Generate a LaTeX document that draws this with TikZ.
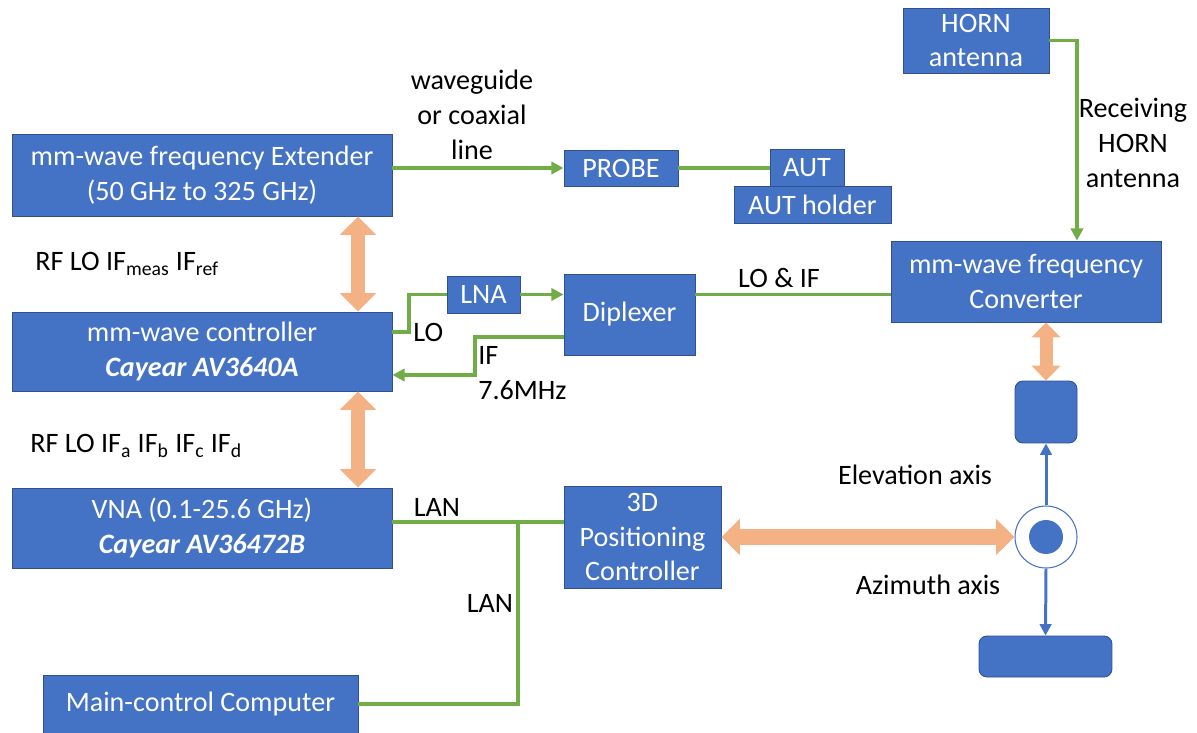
\documentclass[tikz,border=0pt]{standalone}
\usepackage{fontspec}
\setmainfont{Carlito}
\usetikzlibrary{arrows.meta,positioning,calc}

\definecolor{boxblue}{HTML}{4472C4}
\definecolor{boxedge}{HTML}{2F528F}
\definecolor{wiregreen}{HTML}{70AD47}
\definecolor{busorange}{HTML}{F4B183}

\tikzset{
  block/.style={draw=boxedge, line width=0.5pt, fill=boxblue, text=white,
                align=center, inner sep=0pt},
  mount/.style={block, rounded corners=0.16cm},
  note/.style={align=center, text=black, inner sep=0pt},
  wire/.style={draw=wiregreen, line width=2.2pt},
  sig/.style={wire, -{Triangle[width=7pt,length=7pt]}},
  bus/.style={draw=busorange, line width=8pt,
              {Triangle[width=20pt,length=10.5pt]}-{Triangle[width=20pt,length=10.5pt]}},
  axis/.style={draw=boxblue, line width=1.7pt, -{Triangle[width=6.5pt,length=6.5pt]}}
}

\begin{document}
\begin{tikzpicture}[x=0.02cm, y=-0.02cm, auto, font=\fontsize{16pt}{19.8pt}\selectfont]
                            % \draw[help lines] (0,0) grid[step=100] (1197,733);
                            \useasboundingbox (0,0) rectangle (1197,733);

                            \node[block, minimum width=7.6cm, minimum height=1.64cm] (ext)  at (202,175)   {mm-wave frequency Extender\\(50 GHz to 325 GHz)};
                            \node[block, minimum width=7.6cm, minimum height=1.58cm] (ctrl) at (202,351.5) {mm-wave controller\\\textbf{\textit{Cayear AV3640A}}};
                            \node[block, minimum width=7.6cm, minimum height=1.6cm]  (vna)  at (202,528)   {VNA (0.1-25.6 GHz)\\\textbf{\textit{Cayear AV36472B}}};
                            \node[block, minimum width=6.3cm, minimum height=1.16cm] (pc)   at (200.5,704) {Main-control Computer};

                            \node[block, minimum width=2.28cm, minimum height=0.72cm] (probe)  at (621,168)     {PROBE};
                            \node[block, minimum width=1.48cm, minimum height=0.74cm] (aut)    at (807,167.5)   {AUT};
                            \node[block, minimum width=3.14cm, minimum height=0.74cm] (holder) at (812.5,204.5) {AUT holder};
                            \node[block, minimum width=1.46cm, minimum height=0.74cm] (lna)    at (483.5,294.5) {LNA};
                            \node[block, minimum width=2.62cm, minimum height=1.62cm] (dip)    at (629.5,314.5) {Diplexer};
                            \node[block, minimum width=3.14cm, minimum height=2.04cm] (pos)    at (642.5,537)   {3D\\Positioning\\Controller};

                            \node[block, minimum width=2.92cm, minimum height=1.3cm]  (horn) at (976,40.5)   {HORN\\antenna};
                            \node[block, minimum width=5.4cm,  minimum height=1.62cm] (conv) at (1026,281.5) {mm-wave frequency\\Converter};

                            % positioner
                            \node[mount, minimum width=1.24cm, minimum height=1.24cm] (elev) at (1046,412)    {};
                            \node[mount, minimum width=2.66cm, minimum height=0.82cm] (az)   at (1045.5,656.5) {};
                            \node[circle, draw=boxblue, fill=white, line width=0.6pt, minimum size=1.24cm, inner sep=0pt] (ring) at (1046,537) {};
                            \node[circle, fill=boxblue, minimum size=0.68cm, inner sep=0pt] (hub) at (ring.center) {};

                            % labels
                            \node[note] (guide)  at (472,115)  {waveguide\\or coaxial\\line};
                            \node[note, anchor=west] (rfext) at (35,264) {RF LO IF\textsubscript{meas} IF\textsubscript{ref}};
                            \node[note, anchor=west] (rfvna) at (30,446) {RF LO IF\textsubscript{a} IF\textsubscript{b} IF\textsubscript{c} IF\textsubscript{d}};
                            \node[note, anchor=west] (lolbl) at (413,332) {LO};
                            \node[note, anchor=west, align=left] (iflbl) at (478,373) {IF\\7.6MHz};
                            \node[note] (mixlbl) at (779,278)  {LO \& IF};
                            \node[note] (lan1)   at (437,507)  {LAN};
                            \node[note] (lan2)   at (490,603)  {LAN};
                            \node[note] (rxlbl)  at (1133,143) {Receiving\\HORN\\antenna};
                            \node[note] (ellbl)  at (915,475)  {Elevation axis};
                            \node[note] (azlbl)  at (928,585)  {Azimuth axis};

                            % green signal lines
                            \draw[sig]  (ext.east |- probe.west) -- (probe.west);
                            \draw[wire] (probe.east) -- (aut.west |- probe.east);
                            \draw[sig]  (horn.east) -| ($(conv.north)+(51,0)$);
                            \draw[wire] ($(ctrl.east)+(0,-19.5)$) -- ++(17,0) |- (lna.west);
                            \draw[sig]  (lna.east) -- (dip.west |- lna.east);
                            \draw[sig]  ($(dip.west)+(0,22.5)$) -| (475,375) -- (ctrl.east |- 0,375);
                            \draw[wire] (dip.east |- lna.east) -- (conv.west |- lna.east);

                            % LAN
                            \draw[wire] ($(vna.east)+(0,-6)$) coordinate (lan) -- (pos.west |- lan);
                            \coordinate (tap) at (518,522);
                            \draw[wire] (pc.east) -| (tap);

                            % control buses
                            \draw[bus] ($(ext.south)+(156,0)$) -- ($(ctrl.north)+(156,0)$);
                            \draw[bus] ($(ctrl.south)+(156,0)$) -- ($(vna.north)+(156,0)$);
                            \draw[bus, line width=7.4pt, {Triangle[width=16pt,length=8.5pt]}-{Triangle[width=16pt,length=8.5pt]}]
                                (elev.north |- conv.south) -- (elev.north);
                            \draw[bus, line width=9.6pt] (pos.east) -- (ring.west);

                            % axes
                            \draw[axis] (ring.north) -- (elev.south);
                            \draw[axis] (ring.south) -- (az.north);
\end{tikzpicture}
\end{document}
